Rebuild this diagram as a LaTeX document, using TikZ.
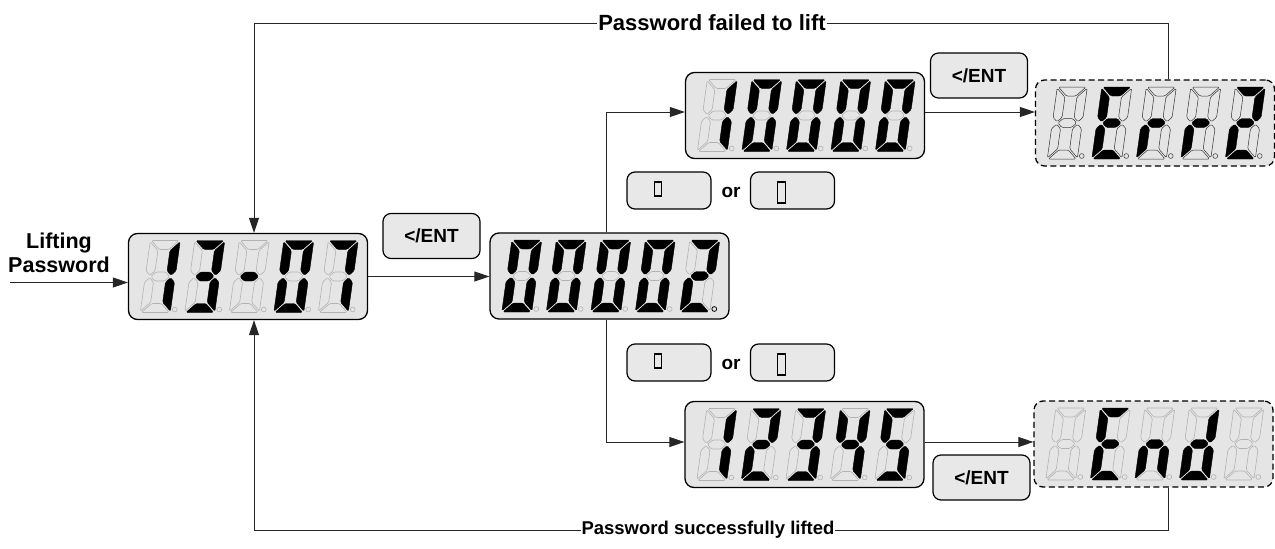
\documentclass[tikz,border=0pt]{standalone}
\usepackage{fontspec}
\setmainfont{Liberation Sans}
\usetikzlibrary{arrows.meta}

\tikzset{
  segon/.style={fill=black,draw=black,line width=0.4pt,rounded corners=1.3pt},
  segoff/.style={draw=gray!60,line width=0.6pt,rounded corners=1.3pt},
  dpstyle/.style={draw=gray!60,line width=0.6pt},
  dispbox/.style={draw=black,line width=1.3pt,fill=gray!20,rounded corners=9pt,
    minimum width=239pt,minimum height=86pt,inner sep=0pt},
  dashbox/.style={dispbox,dash pattern=on 6pt off 3.5pt},
  btn/.style={draw=black,line width=1.2pt,fill=gray!18,rounded corners=8pt,
    minimum width=97pt,minimum height=45pt,inner sep=0pt,
    font=\fontsize{19}{22}\selectfont\bfseries},
  sbtn/.style={draw=black,line width=1.2pt,fill=gray!18,rounded corners=8pt,
    minimum width=84pt,minimum height=37pt,inner sep=0pt},
  glyph/.style={draw=black,line width=1.4pt,minimum width=7.5pt,inner sep=0pt},
  lbl/.style={font=\fontsize{21.5}{24}\selectfont\bfseries,inner sep=1pt},
  ortext/.style={font=\fontsize{19}{22}\selectfont\bfseries,inner sep=0pt},
  arr/.style={draw=black!85,line width=1pt,-{Triangle[length=15pt,width=10pt]}},
}

% segment shapes (digit box 30 x 72, upright, stroke 9)
\newcommand\sgA[1]{\path[#1] (1.2,72) -- (28.8,72) -- (19.8,63) -- (10.2,63) -- cycle;}
\newcommand\sgB[1]{\path[#1] (30,70.8) -- (30,41.7) -- (25.5,37.2) -- (21,41.7) -- (21,61.8) -- cycle;}
\newcommand\sgC[1]{\path[#1] (30,1.2) -- (30,30.3) -- (25.5,34.8) -- (21,30.3) -- (21,10.2) -- cycle;}
\newcommand\sgD[1]{\path[#1] (1.2,0) -- (28.8,0) -- (19.8,9) -- (10.2,9) -- cycle;}
\newcommand\sgE[1]{\path[#1] (0,1.2) -- (0,30.3) -- (4.5,34.8) -- (9,30.3) -- (9,10.2) -- cycle;}
\newcommand\sgF[1]{\path[#1] (0,70.8) -- (0,41.7) -- (4.5,37.2) -- (9,41.7) -- (9,61.8) -- cycle;}
\newcommand\sgG[1]{\path[#1] (5.7,36) -- (10.2,40.5) -- (19.8,40.5) -- (24.3,36) -- (19.8,31.5) -- (10.2,31.5) -- cycle;}
\newcommand\seg[2]{\ifnum#1=1 \def\sst{segon}\else\def\sst{segoff}\fi
  \expandafter#2\expandafter{\sst}}
\def\sdigx#1#2#3#4#5#6#7\relax{%
  \seg{#1}\sgA\seg{#2}\sgB\seg{#3}\sgC\seg{#4}\sgD
  \seg{#5}\sgE\seg{#6}\sgF\seg{#7}\sgG}
\newcommand\sdig[3]{%
  \begin{scope}[shift={({#1},{#2})},xslant=0.14]
    \sdigx#3\relax
  \end{scope}
  \path[dpstyle] ({#1+34.5},{#2+3}) circle (2.4);}
\def\fivedig#1#2#3#4#5{%
  \sdig{\dcx-107.75}{-\dcy-36}{#1}%
  \sdig{\dcx-63.25}{-\dcy-36}{#2}%
  \sdig{\dcx-18.75}{-\dcy-36}{#3}%
  \sdig{\dcx+25.75}{-\dcy-36}{#4}%
  \sdig{\dcx+70.25}{-\dcy-36}{#5}}
\newcommand\sdisp[5]{%
  \node[#4] (#1) at (#2,-#3) {};
  \def\dcx{#2}\def\dcy{#3}%
  \fivedig#5}

\begin{document}
\begin{tikzpicture}[x=1pt,y=1pt]
\useasboundingbox (0,0) rectangle (1275,-549);

% displays
\sdisp{D1}{248}{276.5}{dispbox}{{0110000}{1111001}{0000001}{1111110}{1110000}}
\sdisp{D2}{609.5}{276}{dispbox}{{1111110}{1111110}{1111110}{1111110}{1101101}}
\path[draw=black,line width=0.7pt] (609.5+70.25+34.5,-276-36+3) circle (2.4);
\sdisp{D3}{805}{115.5}{dispbox}{{0110000}{1111110}{1111110}{1111110}{1111110}}
\begin{scope}[segoff/.style={draw=black!80,line width=0.5pt,rounded corners=1.3pt},
              dpstyle/.style={draw=black!80,line width=0.5pt}]
\sdisp{D4}{1155}{123}{dashbox}{{0000000}{1001111}{0000101}{0000101}{1101101}}
\end{scope}
\sdisp{D5}{804.5}{444.5}{dispbox}{{0110000}{1101101}{1111001}{0110011}{1011011}}
\sdisp{D6}{1153.5}{444}{dashbox}{{0000000}{1001111}{0010101}{0111101}{0000000}}

% buttons
\node[btn] (B1) at (431.5,-236) {</ENT};
\node[btn] (B2) at (979,-75.5) {</ENT};
\node[btn] (B3) at (981.5,-477.5) {</ENT};

\node[sbtn] (S1) at (669,-190.5) {};
\node[sbtn] (S2) at (792.5,-190.5) {};
\node[glyph,minimum height=14pt] (G1) at (658,-189) {};
\node[glyph,minimum height=21pt] (G2) at (781.5,-192.5) {};
\node[ortext] (or1) at (731,-192) {or};

\node[sbtn] (S3) at (669,-362.5) {};
\node[sbtn] (S4) at (792.5,-362.5) {};
\node[glyph,minimum height=14pt] (G3) at (658,-361) {};
\node[glyph,minimum height=21pt] (G4) at (781.5,-364.5) {};
\node[ortext] (or2) at (731,-364) {or};

% entry
\node[lbl,align=center] (lift) at (59,-253) {Lifting\\Password};
\coordinate (lp) at (10,-282.5);
\draw[arr] (lp) -- (D1.west |- lp);

% main flow
\draw[arr] (D1.east) -- (D2.west |- D1.east);
\coordinate (sp) at (606,-112);
\coordinate (sp2) at (606,-442);
\draw[arr] (D2.north -| sp) |- (D3.west |- sp);
\draw[arr] (D2.south -| sp2) |- (D5.west |- sp2);
\draw[arr] (D3.east |- sp) -- (D4.west |- sp);
\draw[arr] (D5.east |- sp2) -- (D6.west |- sp2);

% feedback
\coordinate (ft) at (1168,-23);
\coordinate (ftl) at (254,-23);
\coordinate (fb) at (1168,-530);
\coordinate (fbl) at (254,-530);
\draw[arr] (D4.north -| ft) -- (ft) -- (ftl) -- (D1.north -| ftl);
\draw[arr] (D6.south -| fb) -- (fb) -- (fbl) -- (D1.south -| fbl);
\node[lbl,fill=white,font=\fontsize{22}{24}\selectfont\bfseries] (t1) at (712,-23) {Password failed to lift};
\node[lbl,fill=white,font=\fontsize{18.5}{22}\selectfont\bfseries] (t2) at (708,-530) {Password successfully lifted};
\end{tikzpicture}
\end{document}
